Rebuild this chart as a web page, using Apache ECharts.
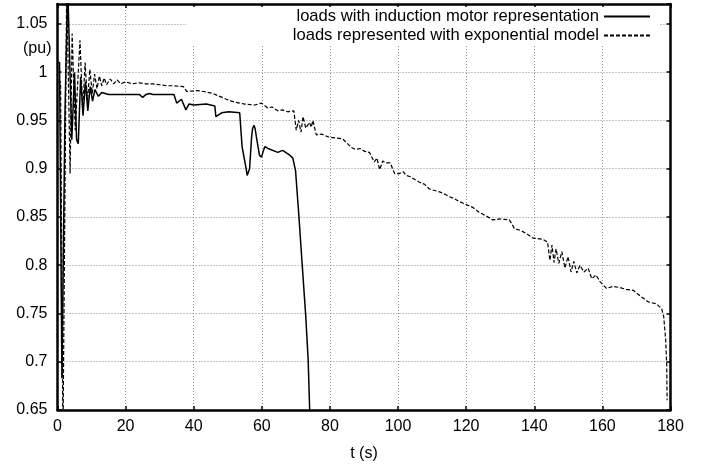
<!DOCTYPE html>
<html>
<head>
<meta charset="utf-8">
<script src="https://cdn.jsdelivr.net/npm/echarts/dist/echarts.min.js"></script>
<style>
  html, body { margin: 0; padding: 0; background: #fff; }
  #chart1 { width: 713px; height: 468px; }
</style>
</head>
<body>
<div id="chart1"></div>
<script>
// induction motor loads (solid)
const motorTime = [0, 0.6, 1.3, 2.2, 3.0, 4.2, 5.0, 5.6, 6.1, 6.8, 7.5, 8.2, 8.9, 9.6, 10.3, 11, 12, 13, 15, 24, 25, 26, 27, 28, 34.2, 35, 36.4, 37.7, 38.6, 40, 43.7, 46.2, 46.5, 48.2, 50.3, 53.5, 54.2, 55.3, 55.7, 56, 56.4, 57, 57.3, 57.7, 58.0, 58.4, 59.3, 59.9, 60.4, 60.9, 61.8, 64.7, 66.1, 68.2, 69.1, 69.9, 70.9, 71.9, 72.9, 73.6, 74.05, 74.4]
const motorVolt = [1.01, 1.01, 0.683, 0.96, 1.09, 0.93, 1.0, 0.93, 0.926, 0.995, 0.955, 0.99, 0.96, 0.985, 0.97, 0.982, 0.975, 0.979, 0.977, 0.977, 0.974, 0.977, 0.978, 0.977, 0.977, 0.968, 0.972, 0.961, 0.967, 0.966, 0.967, 0.965, 0.954, 0.958, 0.959, 0.958, 0.923, 0.902, 0.893, 0.891, 0.900, 0.933, 0.942, 0.945, 0.942, 0.933, 0.914, 0.912, 0.918, 0.923, 0.921, 0.917, 0.919, 0.914, 0.911, 0.898, 0.85, 0.798, 0.747, 0.702, 0.65, 0.62]

// exponential model loads (dashed)
const expTime = [0, 0.9, 1.6, 2.7, 3.7, 4.3, 5.2, 6.6, 7.4, 8.1, 8.8, 9.5, 10.2, 10.9, 11.6, 12.3, 13, 13.7, 14.4, 15.5, 16.5, 17.5, 18.5, 20, 22, 24, 26, 28, 30, 32, 34, 37, 38, 41, 43, 45.6, 49.6, 52, 55, 57.9, 59.9, 61.7, 63, 64.7, 66, 67.6, 69.4, 70.1, 70.8, 71.5, 72.1, 72.9, 74, 74.5, 75, 76, 77.5, 79.5, 81.4, 83.7, 86.3, 87.5, 88.8, 90.2, 91.6, 92.1, 93, 93.8, 94.6, 95.5, 96.5, 97, 97.7, 98.4, 99, 100.4, 101.5, 102.4, 103.4, 104.8, 106.3, 107.7, 109.2, 110.2, 112.2, 114.1, 115.1, 116.5, 118, 120, 121.9, 123.8, 125.9, 127.8, 130, 132.7, 134.2, 136, 137.6, 139.7, 142.5, 143.9, 144.6, 145.2, 145.8, 146.4, 147.2, 148.1, 149.0, 149.9, 150.8, 151.6, 152.5, 153.4, 154.6, 155.8, 156.9, 158.1, 159.3, 161.2, 163, 165.1, 167, 169.1, 171.5, 173.5, 175.9, 177.4, 178.0, 178.6, 178.9, 179.0]
const expVolt = [0.99, 0.99, 0.62, 1.09, 0.895, 1.04, 0.94, 1.033, 0.96, 1.01, 0.97, 1.003, 0.978, 0.998, 0.983, 0.996, 0.986, 0.994, 0.987, 0.993, 0.988, 0.992, 0.988, 0.99, 0.988, 0.989, 0.988, 0.988, 0.987, 0.986, 0.986, 0.985, 0.98, 0.981, 0.98, 0.978, 0.972, 0.969, 0.967, 0.966, 0.968, 0.963, 0.964, 0.96, 0.961, 0.959, 0.96, 0.94, 0.95, 0.938, 0.954, 0.942, 0.948, 0.943, 0.95, 0.935, 0.936, 0.933, 0.932, 0.931, 0.922, 0.92, 0.921, 0.918, 0.917, 0.916, 0.907, 0.911, 0.899, 0.908, 0.906, 0.904, 0.906, 0.9, 0.895, 0.895, 0.897, 0.893, 0.892, 0.889, 0.886, 0.884, 0.879, 0.878, 0.876, 0.873, 0.871, 0.869, 0.866, 0.863, 0.86, 0.855, 0.851, 0.847, 0.848, 0.847, 0.838, 0.836, 0.833, 0.828, 0.827, 0.824, 0.805, 0.821, 0.803, 0.817, 0.802, 0.814, 0.797, 0.809, 0.793, 0.804, 0.792, 0.8, 0.793, 0.797, 0.786, 0.79, 0.783, 0.776, 0.778, 0.777, 0.775, 0.774, 0.767, 0.762, 0.76, 0.755, 0.747, 0.722, 0.695, 0.66]

const xTicks = {min: 0, max: 180, interval: 20}
const yTicks = {min: 0.65, max: 1.0707, interval: 0.05}

const seriesNames = ["loads with induction motor representation", "loads represented with exponential model"]

function zip(ts, vs){
  let out = []
  for (var i = 0; i < ts.length; i++) {
    out.push([ts[i], vs[i]])
  }
  return out
}

const font = "Liberation Sans"
const chart = echarts.init(document.getElementById("chart1"))

let gridLine = {
  show: true,
  lineStyle: {color: "#8c8c8c", width: 1, type: [1, 2]}
}

let frameAxis = (extra) => Object.assign({
  type: "value",
  axisLine: {show: true, onZero: false, lineStyle: {color: "#000", width: 2.5}},
  axisTick: {show: true, inside: true, length: 4, lineStyle: {color: "#000", width: 1.5}},
  splitLine: {show: false},
  axisLabel: {show: false}
}, extra)

let options = {
  backgroundColor: "#fff",
  animation: false,
  textStyle: {fontFamily: font},
  grid: {left: 57.5, right: 42.5, top: 4, bottom: 58},
  legend: {
    orient: "vertical",
    align: "right",
    right: 53,
    top: 7,
    padding: [1, 9, 1, 106],
    backgroundColor: "#fff",
    itemWidth: 46,
    itemHeight: 14,
    itemGap: 2,
    selectedMode: false,
    itemStyle: {opacity: 0},
    textStyle: {fontFamily: font, fontSize: 16.6, color: "#000", lineHeight: 15},
    data: seriesNames
  },
  graphic: [{
    type: "text",
    left: 23,
    top: 41,
    style: {text: "(pu)", font: "16px " + font, fill: "#000"}
  }],
  xAxis: [
    frameAxis({
      position: "bottom",
      min: xTicks.min, max: xTicks.max, interval: xTicks.interval,
      name: "t (s)",
      nameLocation: "middle",
      nameGap: 36,
      nameTextStyle: {fontFamily: font, fontSize: 16, color: "#000"},
      splitLine: gridLine,
      axisLabel: {show: true, fontFamily: font, fontSize: 16, color: "#000", margin: 9}
    }),
    frameAxis({position: "top", min: xTicks.min, max: xTicks.max, interval: xTicks.interval})
  ],
  yAxis: [
    frameAxis({
      position: "left",
      min: yTicks.min, max: yTicks.max, interval: yTicks.interval,
      splitLine: gridLine,
      axisLabel: {show: true, fontFamily: font, fontSize: 16, color: "#000", margin: 10, showMaxLabel: false}
    }),
    frameAxis({position: "right", min: yTicks.min, max: yTicks.max, interval: yTicks.interval})
  ],
  series: [
    {
      name: seriesNames[0],
      type: "line",
      data: zip(motorTime, motorVolt),
      symbol: "none",
      clip: true,
      itemStyle: {color: "#000"},
      lineStyle: {color: "#000", width: 1.5}
    },
    {
      name: seriesNames[1],
      type: "line",
      data: zip(expTime, expVolt),
      symbol: "none",
      clip: true,
      itemStyle: {color: "#000"},
      lineStyle: {color: "#000", width: 1.2, type: [4, 2]}
    }
  ]
}
chart.setOption(options)
</script>
</body>
</html>
